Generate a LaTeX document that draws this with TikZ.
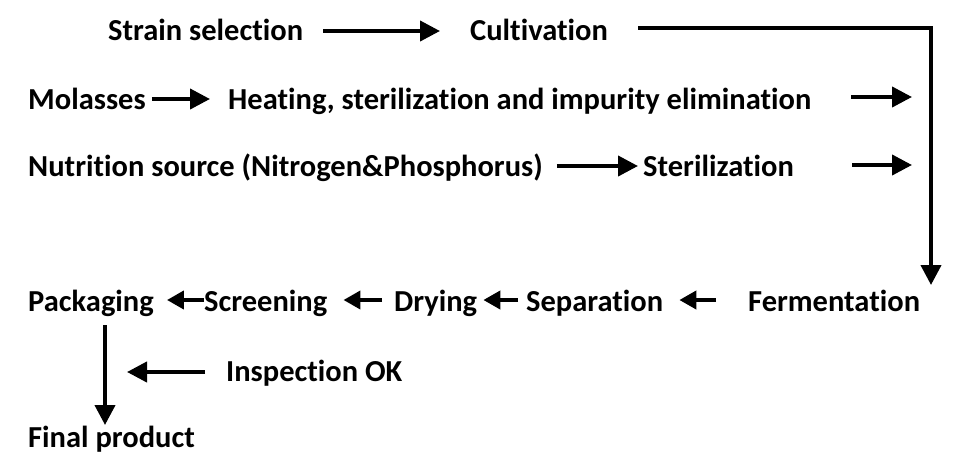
\documentclass[tikz,border=0pt]{standalone}
\usepackage{fontspec}
\setmainfont{Carlito}[Ligatures={NoCommon,NoRequired,NoContextual}]
\usetikzlibrary{arrows.meta,calc}
\begin{document}
\begin{tikzpicture}[x=1pt,y=-1pt,
  lbl/.style={anchor=west,inner sep=0pt,font=\bfseries\fontsize{30.5}{36}\selectfont,text height=22pt,text depth=3pt},
  arr/.style={line width=4pt,-{Triangle[length=20pt,width=20pt]}},
  arrs/.style={line width=4pt,-{Triangle[length=17pt,width=18pt]}}]
\useasboundingbox (0,0) rectangle (959,458);
\node[lbl] (strain) at (108,31) {Strain selection};
\node[lbl] (cult) at (470,31) {Cultivation};
\node[lbl] (mol) at (28,100) {Molasses};
\node[lbl] (heat) at (228,100) {Heating, sterilization and impurity elimination};
\node[lbl] (nut) at (28,167) {Nutrition source (Nitrogen\&Phosphorus)};
\node[lbl] (ster) at (643,167) {Sterilization};
\node[lbl] (ferm) at (748,302) {Fermentation};
\node[lbl] (sep) at (526,302) {Separation};
\node[lbl] (dry) at (394,302) {Drying};
\node[lbl] (scr) at (204,302) {Screening};
\node[lbl] (pack) at (28,302) {Packaging};
\node[lbl] (insp) at (226,372) {Inspection OK};
\node[lbl] (final) at (28,438) {Final product};
\coordinate (h1) at (912,97);
\coordinate (s1) at (912,165);
\coordinate (fermTop) at (931,285);
\coordinate (inspEnd) at (127,372);
\coordinate (packTop) at (105,325);
\coordinate (finalTop) at (105,425);
\draw[arr,shorten <=20pt,shorten >=30pt] (strain.east) -- (cult.west);
\draw[arr,shorten <=30pt,line join=miter] ([yshift=3pt]cult.east) -| (fermTop);
\draw[arr,shorten <=6pt,shorten >=18pt] ([yshift=1pt]mol.east) -- ([yshift=1pt]heat.west);
\draw[arr,shorten <=40pt] ([yshift=3pt]heat.east) -- (h1);
\draw[arr,shorten <=14pt,shorten >=5pt] ([yshift=1pt]nut.east) -- ([yshift=1pt]ster.west);
\draw[arr,shorten <=58pt] ([yshift=2pt]ster.east) -- (s1);
\draw[arrs,shorten <=32pt,shorten >=16pt] ([yshift=2pt]ferm.west) -- ([yshift=2pt]sep.east);
\draw[arrs,shorten <=8pt,shorten >=6pt] ([yshift=2pt]sep.west) -- ([yshift=2pt]dry.east);
\draw[arrs,shorten <=12pt,shorten >=16pt] ([yshift=2pt]dry.west) -- ([yshift=2pt]scr.east);
\draw[arrs,shorten <=0pt,shorten >=13pt] ([yshift=2pt]scr.west) -- ([yshift=2pt]pack.east);
\draw[arr,shorten <=21pt] (insp.west) -- (inspEnd);
\draw[arr] (packTop) -- (finalTop);
\end{tikzpicture}
\end{document}
